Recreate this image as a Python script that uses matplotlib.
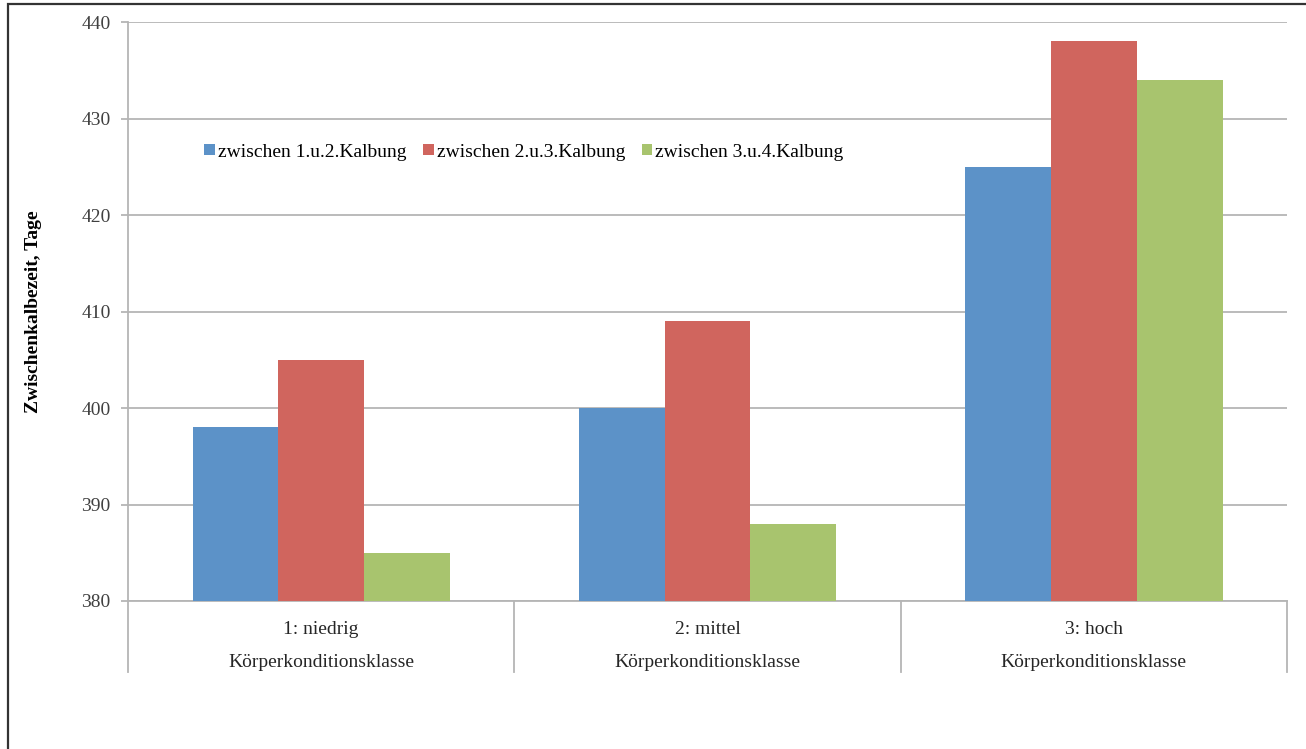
import numpy as np
import matplotlib
matplotlib.use("Agg")
import matplotlib.pyplot as plt
from matplotlib.patches import Rectangle

categories = ["1: niedrig", "2: mittel", "3: hoch"]
group_label = "Körperkonditionsklasse"
series_names = ["zwischen 1.u.2.Kalbung", "zwischen 2.u.3.Kalbung", "zwischen 3.u.4.Kalbung"]
values_12 = [398, 400, 425]
values_23 = [405, 409, 438]
values_34 = [385, 388, 434]
colors = ["#5c92c8", "#d0655e", "#a8c46e"]

plt.rcParams["font.family"] = ["Liberation Serif", "DejaVu Serif"]

fig = plt.figure(figsize=(13.06, 7.49), dpi=100)
ax = fig.add_axes([0.098, 0.1976, 0.8875, 0.773])

x = np.arange(len(categories))
width = 0.222
for i, (vals, name, col) in enumerate(zip([values_12, values_23, values_34], series_names, colors)):
    ax.bar(x + (i - 1) * width, np.array(vals) - 380, width, bottom=380,
           color=col, label=name, zorder=3, linewidth=0)

ax.set_xlim(-0.5, 2.5)
ax.set_ylim(380, 440)
ax.set_yticks(np.arange(380, 441, 10))
ax.yaxis.grid(True, color="#b5b5b5", linewidth=1.3, zorder=0)
ax.set_axisbelow(True)

for s in ["top", "right"]:
    ax.spines[s].set_visible(False)
ax.spines["left"].set_color("#b5b5b5")
ax.spines["left"].set_linewidth(1.3)
ax.spines["bottom"].set_color("#b5b5b5")
ax.spines["bottom"].set_linewidth(1.3)

ax.tick_params(axis="y", length=5, width=1.3, color="#b5b5b5",
               labelsize=14, labelcolor="#404040", pad=7.5)
ax.set_xticks([])

# category separators below the axis
for xv in np.arange(-0.5, 3.0, 1.0):
    ax.plot([xv, xv], [0, -0.1226], color="#b5b5b5", lw=1.3,
            transform=ax.get_xaxis_transform(), clip_on=False)

for xi, cat in zip(x, categories):
    ax.text(xi, -0.049, cat, transform=ax.get_xaxis_transform(),
            ha="center", va="center", fontsize=14, color="#262626")
    ax.text(xi, -0.106, group_label, transform=ax.get_xaxis_transform(),
            ha="center", va="center", fontsize=14, color="#262626")

ax.set_ylabel("Zwischenkalbezeit, Tage", fontsize=14, fontweight="bold",
              labelpad=28)

ax.legend(loc="center left", bbox_to_anchor=(0.066, 0.7755), ncol=3,
          frameon=False, fontsize=14, handlelength=0.55, handleheight=0.55,
          handletextpad=0.15, columnspacing=0.85, borderaxespad=0, borderpad=0)

fig.patches.append(Rectangle((7.5 / 1306, -0.1), 1.2, 1.1 - 3.5 / 749,
                             transform=fig.transFigure, fill=False,
                             edgecolor="#333333", linewidth=1.6))

fig.savefig("out.png", dpi=100)
